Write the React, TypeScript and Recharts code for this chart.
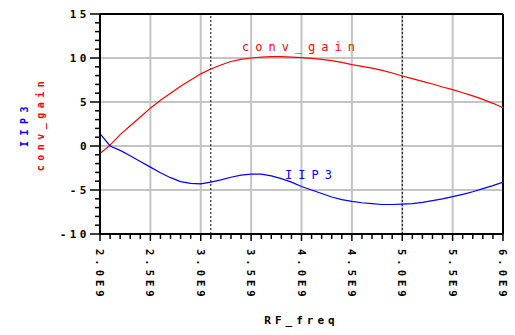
import React from 'react';
import { LineChart, Line, XAxis, YAxis, ReferenceLine, ReferenceDot } from 'recharts';

const freqs = [2.0, 2.1, 2.2, 2.3, 2.4, 2.5, 2.6, 2.7, 2.8, 2.9, 3.0, 3.1, 3.2, 3.3, 3.4, 3.5, 3.6, 3.7, 3.8, 3.9, 4.0, 4.1, 4.2, 4.3, 4.4, 4.5, 4.6, 4.7, 4.8, 4.9, 5.0, 5.1, 5.2, 5.3, 5.4, 5.5, 5.6, 5.7, 5.8, 5.9, 6.0];
const convGain = [-0.85, 0.1, 1.3, 2.3, 3.3, 4.3, 5.2, 6.0, 6.8, 7.5, 8.2, 8.75, 9.2, 9.6, 9.85, 10.0, 10.1, 10.15, 10.15, 10.1, 10.05, 9.95, 9.85, 9.7, 9.5, 9.25, 9.05, 8.85, 8.6, 8.3, 7.95, 7.65, 7.35, 7.05, 6.7, 6.4, 6.05, 5.7, 5.3, 4.85, 4.35];
const iip3 = [1.4, 0.0, -0.5, -1.1, -1.75, -2.4, -3.05, -3.6, -4.05, -4.25, -4.3, -4.1, -3.85, -3.55, -3.3, -3.2, -3.2, -3.4, -3.7, -4.1, -4.6, -5.0, -5.4, -5.8, -6.1, -6.3, -6.45, -6.55, -6.65, -6.65, -6.6, -6.55, -6.4, -6.2, -6.0, -5.75, -5.5, -5.2, -4.85, -4.5, -4.1];

const xMajor = [2.0, 2.5, 3.0, 3.5, 4.0, 4.5, 5.0, 5.5, 6.0];
const xLabels = ['2.0E9', '2.5E9', '3.0E9', '3.5E9', '4.0E9', '4.5E9', '5.0E9', '5.5E9', '6.0E9'];
const xMinor = Array.from({ length: 41 }, (_, i) => Math.round((2 + i * 0.1) * 10) / 10);
const yMajor = [-10, -5, 0, 5, 10, 15];
const yMinor = Array.from({ length: 26 }, (_, i) => -10 + i);
const markers = [3.1, 5.0];

const data = freqs.map((f, i) => ({ f, conv_gain: convGain[i], IIP3: iip3[i] }));

const MONO = '"DejaVu Sans Mono", "Liberation Mono", monospace';

const XTick = (props: any) => {
  const { x, y, payload } = props;
  const v = payload.value;
  const idx = xMajor.findIndex((m) => Math.abs(m - v) < 1e-6);
  const major = idx >= 0;
  return (
    <g>
      <line x1={x} y1={y} x2={x} y2={y + (major ? 7 : 5)} stroke="#000" strokeWidth={1.5} />
      {major && (
        <text
          transform={`translate(${x},${y + 15}) rotate(90)`}
          fontFamily={MONO}
          fontWeight="bold"
          fontSize={10.5}
          letterSpacing={4}
          dominantBaseline="central"
          textAnchor="start"
          fill="#000"
        >
          {xLabels[idx]}
        </text>
      )}
    </g>
  );
};

const YTick = (props: any) => {
  const { x, y, payload } = props;
  const v = payload.value;
  const major = yMajor.some((m) => Math.abs(m - v) < 1e-6);
  return (
    <g>
      <line x1={x - (major ? 10 : 5)} y1={y} x2={x} y2={y} stroke="#000" strokeWidth={1.5} />
      {major && (
        <text
          x={x - 10}
          y={y}
          fontFamily={MONO}
          fontWeight="bold"
          fontSize={11}
          letterSpacing={3.5}
          dominantBaseline="central"
          textAnchor="end"
          fill="#000"
        >
          {String(v)}
        </text>
      )}
    </g>
  );
};

const YTitle = (props: any) => {
  const vb = props.viewBox || {};
  const cy = (vb.y ?? 14) + (vb.height ?? 220) / 2;
  return (
    <g>
      <text
        transform={`translate(24,${cy}) rotate(-90)`}
        fontFamily={MONO}
        fontWeight="bold"
        fontSize={10}
        letterSpacing={5.5}
        textAnchor="middle"
        dominantBaseline="central"
        fill="#0000ff"
      >
        IIP3
      </text>
      <text
        transform={`translate(40,${cy}) rotate(-90)`}
        fontFamily={MONO}
        fontWeight="bold"
        fontSize={10}
        letterSpacing={4.5}
        textAnchor="middle"
        dominantBaseline="central"
        fill="#ff0000"
      >
        conv_gain
      </text>
    </g>
  );
};

const XTitle = (props: any) => {
  const vb = props.viewBox || {};
  const cx = (vb.x ?? 100) + (vb.width ?? 403) / 2;
  return (
    <text
      x={cx}
      y={320}
      fontFamily={MONO}
      fontWeight="bold"
      fontSize={11}
      letterSpacing={4}
      textAnchor="middle"
      dominantBaseline="central"
      fill="#000"
    >
      RF_freq
    </text>
  );
};

const seriesLabel = (text: string, color: string) => (props: any) => {
  const vb = props.viewBox || {};
  const cx = (vb.x ?? 0) + (vb.width ?? 0) / 2;
  const cy = (vb.y ?? 0) + (vb.height ?? 0) / 2;
  return (
    <text
      x={cx}
      y={cy}
      fontFamily={MONO}
      fontSize={12}
      letterSpacing={6}
      textAnchor="middle"
      fill={color}
    >
      {text}
    </text>
  );
};

export default function App() {
  return (
    <div style={{ position: 'absolute', left: 0, top: 0, width: 515, height: 335, background: '#fff' }}>
      <LineChart width={515} height={335} data={data} margin={{ top: 14, right: 12, bottom: 0, left: 0 }}>
        {xMajor.map((v) => (
          <ReferenceLine key={'gx' + v} x={v} stroke="#c4c4c4" strokeWidth={2} />
        ))}
        {yMajor.map((v) => (
          <ReferenceLine key={'gy' + v} y={v} stroke="#c4c4c4" strokeWidth={2} />
        ))}
        {markers.map((v) => (
          <ReferenceLine key={'m' + v} x={v} stroke="#000" strokeWidth={1} strokeDasharray="2 2" />
        ))}
        <ReferenceLine y={15} stroke="#000" strokeWidth={2} ifOverflow="visible" />
        <ReferenceLine x={6} stroke="#000" strokeWidth={2} ifOverflow="visible" />
        <ReferenceLine y={-10} stroke="#000" strokeWidth={2} ifOverflow="visible" />
        <ReferenceLine x={2} stroke="#000" strokeWidth={2} ifOverflow="visible" />
        <XAxis
          dataKey="f"
          type="number"
          domain={[2, 6]}
          ticks={xMinor}
          interval={0}
          tickSize={0}
          tickMargin={0}
          tickLine={false}
          axisLine={{ stroke: '#000', strokeWidth: 2 }}
          height={101}
          tick={<XTick />}
          label={<XTitle />}
        />
        <YAxis
          type="number"
          domain={[-10, 15]}
          ticks={yMinor}
          interval={0}
          tickSize={0}
          tickMargin={0}
          tickLine={false}
          axisLine={{ stroke: '#000', strokeWidth: 2 }}
          width={100}
          tick={<YTick />}
          label={<YTitle />}
        />
        <Line type="linear" dataKey="conv_gain" stroke="#ff0000" strokeWidth={1.2} dot={false} isAnimationActive={false} />
        <Line type="linear" dataKey="IIP3" stroke="#0000ff" strokeWidth={1.2} dot={false} isAnimationActive={false} />
        <ReferenceDot x={4.0} y={10.75} r={0} stroke="none" fill="none" label={{ content: seriesLabel('conv_gain', '#ff0000') }} />
        <ReferenceDot x={4.1} y={-3.7} r={0} stroke="none" fill="none" label={{ content: seriesLabel('IIP3', '#0000ff') }} />
      </LineChart>
    </div>
  );
}
